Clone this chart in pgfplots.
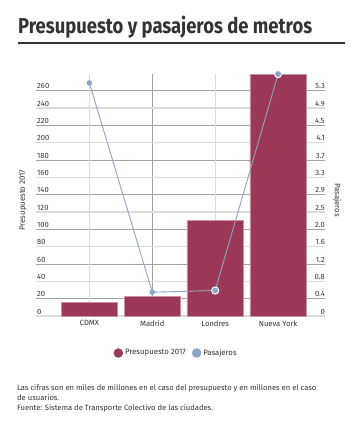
\documentclass[border=0pt]{standalone}
\usepackage{fontspec}
\setmainfont{Fira Sans}
\usepackage{pgfplots}
\pgfplotsset{compat=1.18}
\definecolor{barcol}{HTML}{9B3857}
\definecolor{linecol}{HTML}{8CA5C0}
\definecolor{txt}{HTML}{333333}
\definecolor{gdark}{HTML}{A3A3A3}
\definecolor{glight}{HTML}{DCDCDC}
\begin{document}
\begin{tikzpicture}[x=1pt,y=1pt]
\useasboundingbox (0,0) rectangle (361,-423);
\node[anchor=base west, inner sep=0, text=txt] at (18,-33) {\resizebox{294pt}{\height}{\fontsize{21.5}{24}\selectfont\bfseries Presupuesto y pasajeros de metros}};
\fill[txt] (18,-41.8) rectangle (345,-44.3);

\begin{axis}[
  at={(36pt,-316pt)}, anchor=south west, scale only axis, width=289pt, height=242pt,
  xmin=-0.849, xmax=3.746, ymin=0, ymax=279.2,
  /pgf/number format/assume math mode=true,
  axis line style={draw=none}, major tick length=0pt, minor tick length=0pt,
  xtick={0,1,2,3}, xticklabels={CDMX,Madrid,Londres,Nueva York},
  minor xtick={1,3}, xminorgrids,
  extra x ticks={0,2}, extra x tick labels={}, extra x tick style={grid=major},
  ytick={0,20,...,260},
  minor ytick={20,60,...,260}, yminorgrids,
  extra y ticks={0,40,...,240}, extra y tick labels={}, extra y tick style={grid=major},
  major grid style={glight, line width=1.2pt},
  minor grid style={gdark, line width=0.5pt},
  yticklabel style={anchor=south west, inner sep=0pt, xshift=1pt, yshift=1.5pt, font=\fontsize{7.6}{9}\selectfont, text=txt},
  xticklabel style={font=\fontsize{7.6}{9}\selectfont, text=txt, yshift=-1pt},
  ylabel={Presupuesto 2017},
  every axis y label/.style={at={(axis description cs:-0.045,0.479)}, rotate=90, anchor=center, font=\fontsize{7.8}{9}\selectfont, text=txt},
]
\addplot[ybar, bar width=56.5pt, fill=barcol, draw=barcol!55!white, line width=0.6pt] coordinates {(0,16) (1,23) (2,110) (3,279)};
\end{axis}

\begin{axis}[
  at={(36pt,-316pt)}, anchor=south west, scale only axis, width=289pt, height=242pt,
  xmin=-0.849, xmax=3.746, ymin=0, ymax=5.6914, clip=false,
  /pgf/number format/assume math mode=true,
  axis line style={draw=none}, major tick length=0pt,
  xtick=\empty,
  ytick={0,0.40769,0.81538,1.22308,1.63077,2.03846,2.44615,2.85385,3.26154,3.66923,4.07692,4.48462,4.89231,5.3},
  yticklabels={0,0.4,0.8,1.2,1.6,2.0,2.5,2.9,3.3,3.7,4.1,4.5,4.9,5.3},
  yticklabel pos=right,
  yticklabel style={anchor=south east, inner sep=0pt, xshift=0pt, yshift=1.5pt, font=\fontsize{7.6}{9}\selectfont, text=txt},
  ylabel={Pasajeros},
  every axis y label/.style={at={(axis description cs:1.0415,0.479)}, rotate=-90, anchor=center, font=\fontsize{7.8}{9}\selectfont, text=txt},
  legend style={at={(axis description cs:0.485,-0.153)}, anchor=center, draw=none, fill=none, legend columns=2, font=\fontsize{7.8}{9}\selectfont, text=txt, /tikz/every even column/.style={column sep=4pt}},
  legend cell align=left,
]
\addlegendimage{legend image code/.code={\fill[barcol] (4.5pt,0) circle (4.5pt);}}
\addlegendentry{Presupuesto 2017}
\addlegendimage{legend image code/.code={\fill[linecol] (4.5pt,0) circle (4.5pt);}}
\addlegendentry{Pasajeros}
\addplot[forget plot, linecol, line width=0.9pt, mark=*, mark size=2.3pt, mark options={fill=linecol, draw=linecol}] coordinates {(0,5.48) (1,0.56) (2,0.60) (3,5.69)};
\addplot[forget plot, only marks, mark=*, mark size=3.6pt, mark options={fill=linecol, draw=white, line width=1pt}] coordinates {(2,0.60) (3,5.69)};
\end{axis}

\node[anchor=north west, align=left, font=\fontsize{7.6}{10.3}\selectfont, text=txt, inner sep=0] at (17,-384) {Las cifras son en miles de millones en el caso del presupuesto y en millones en el caso\\de usuarios.\\Fuente: Sistema de Transporte Colectivo de las ciudades.};
\end{tikzpicture}
\end{document}
